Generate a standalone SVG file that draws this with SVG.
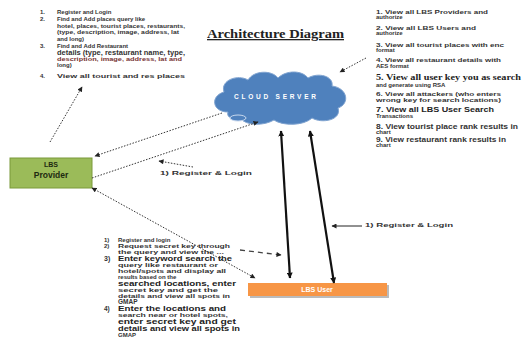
<svg xmlns="http://www.w3.org/2000/svg" width="531" height="337" viewBox="0 0 531 337">
<style>
.t{font-family:"Liberation Sans",Arial,sans-serif;font-weight:bold;fill:#333;font-size:6px}
.dot{fill:none;stroke:#333;stroke-width:1;stroke-dasharray:1.5 1.5}
.dash{fill:none;stroke:#444;stroke-width:1.3;stroke-dasharray:5 4}
.solid{fill:none;stroke:#111;stroke-width:2.2}
</style>
<defs>
<marker id="a" viewBox="0 0 10 10" refX="9" refY="5" markerWidth="6" markerHeight="5" markerUnits="userSpaceOnUse" orient="auto-start-reverse"><path d="M0,0 L10,5 L0,10 z" fill="#222"/></marker>
<marker id="s" viewBox="0 0 10 10" refX="9" refY="5" markerWidth="6" markerHeight="6" markerUnits="userSpaceOnUse" orient="auto-start-reverse"><path d="M0,0 L10,5 L0,10 z" fill="#111"/></marker>
</defs>
<rect width="531" height="337" fill="#fff"/>

<g id="title">
<text x="207" y="38" font-family="Liberation Serif,serif" font-weight="bold" font-size="13" fill="#222" text-decoration="underline" textLength="137" lengthAdjust="spacingAndGlyphs">Architecture Diagram</text>
</g>

<g id="provider-functions" class="t">
<text x="40" y="14">1.</text><text x="57" y="14">Register and Login</text>
<text x="40" y="21">2.</text><text x="57" y="21">Find and Add places query like</text>
<text x="57" y="28" textLength="128" lengthAdjust="spacingAndGlyphs">hotel, places, tourist places, restaurants,</text>
<text x="57" y="34" textLength="122" lengthAdjust="spacingAndGlyphs">(type, description, image, address, lat</text>
<text x="57" y="41">and long)</text>
<text x="40" y="48">3.</text><text x="57" y="48">Find and Add Restaurant</text>
<text x="57" y="55" style="font-size:6.5px" textLength="128" lengthAdjust="spacingAndGlyphs">details (type, restaurant name, type,</text>
<text x="57" y="61" style="fill:#733" textLength="125" lengthAdjust="spacingAndGlyphs">description, image, address, lat and</text>
<text x="57" y="67">long)</text>
<text x="40" y="78">4.</text><text x="57" y="78" textLength="128" lengthAdjust="spacingAndGlyphs">View all tourist and res places</text>
</g>

<g id="server-functions" class="t">
<text x="376" y="14" textLength="112" lengthAdjust="spacingAndGlyphs">1. View all LBS Providers and</text>
<text x="376" y="19">authorize</text>
<text x="376" y="30" textLength="100" lengthAdjust="spacingAndGlyphs">2. View all LBS Users and</text>
<text x="376" y="35">authorize</text>
<text x="376" y="47" textLength="128" lengthAdjust="spacingAndGlyphs">3. View all tourist places with enc</text>
<text x="376" y="52">format</text>
<text x="376" y="62" textLength="125" lengthAdjust="spacingAndGlyphs">4. View all restaurant details with</text>
<text x="376" y="68">AES format</text>
<text x="376" y="80" style="font-family:'Liberation Serif',serif;font-size:8px;fill:#222" textLength="145" lengthAdjust="spacingAndGlyphs">5. View all user key you as search</text>
<text x="376" y="87">and generate using RSA</text>
<text x="376" y="96" textLength="125" lengthAdjust="spacingAndGlyphs">6. View all attackers (who enters</text>
<text x="376" y="102" textLength="125" lengthAdjust="spacingAndGlyphs">wrong key for search locations)</text>
<text x="376" y="112" style="font-size:7px;fill:#222" textLength="118" lengthAdjust="spacingAndGlyphs">7. View all LBS User Search</text>
<text x="376" y="118">Transactions</text>
<text x="376" y="129" style="font-size:6.5px" textLength="142" lengthAdjust="spacingAndGlyphs">8. View tourist place rank results in</text>
<text x="376" y="134">chart</text>
<text x="376" y="142" style="font-size:6.5px" textLength="130" lengthAdjust="spacingAndGlyphs">9. View restaurant rank results in</text>
<text x="376" y="147">chart</text>
</g>

<g id="user-functions" class="t">
<text x="104" y="242">1)</text><text x="118" y="242">Register and login</text>
<text x="104" y="248">2)</text><text x="118" y="248" textLength="112" lengthAdjust="spacingAndGlyphs">Request secret key through</text>
<text x="118" y="254" textLength="106" lengthAdjust="spacingAndGlyphs">the query and view the ...</text>
<text x="104" y="261" style="font-size:7px">3)</text><text x="118" y="261" style="font-size:7px;fill:#222" textLength="114" lengthAdjust="spacingAndGlyphs">Enter keyword search the</text>
<text x="118" y="267" textLength="100" lengthAdjust="spacingAndGlyphs">query like restaurant or</text>
<text x="118" y="273" textLength="108" lengthAdjust="spacingAndGlyphs">hotel/spots and display all</text>
<text x="118" y="279">results based on the</text>
<text x="118" y="286" style="font-size:6.8px;fill:#222" textLength="118" lengthAdjust="spacingAndGlyphs">searched locations, enter</text>
<text x="118" y="292" textLength="100" lengthAdjust="spacingAndGlyphs">secret key and get the</text>
<text x="118" y="298" textLength="112" lengthAdjust="spacingAndGlyphs">details and view all spots in</text>
<text x="118" y="304" style="font-size:6.5px">GMAP</text>
<text x="104" y="311" style="font-size:6.5px">4)</text><text x="118" y="311" style="font-size:6.8px;fill:#222" textLength="108" lengthAdjust="spacingAndGlyphs">Enter the locations and</text>
<text x="118" y="317" textLength="110" lengthAdjust="spacingAndGlyphs">search near or hotel spots,</text>
<text x="118" y="324" style="font-size:6.8px;fill:#222" textLength="118" lengthAdjust="spacingAndGlyphs">enter secret key and get</text>
<text x="118" y="331" style="font-size:6.8px;fill:#222" textLength="122" lengthAdjust="spacingAndGlyphs">details and view all spots in</text>
<text x="118" y="337" style="font-size:6px">GMAP</text>
</g>

<g id="cloud-server">
<path d="M228 112 C212 112 210 96 224 92 C220 80 238 74 248 80 C254 70 272 70 278 78 C286 70 302 70 308 78 C318 72 334 76 332 86 C348 88 350 104 338 108 C342 120 322 124 312 118 C304 126 282 126 274 120 C264 126 246 126 240 118 C234 120 226 118 228 112 Z" fill="#4F81BD" stroke="#7fa3d0" stroke-width="1"/>
<ellipse cx="238" cy="118" rx="8" ry="3" fill="#4F81BD" stroke="#c8d8ee" stroke-width="1"/>
<text x="275" y="99" text-anchor="middle" font-family="Liberation Sans,sans-serif" font-weight="bold" font-size="6.5" fill="#fff" textLength="82">CLOUD SERVER</text>
</g>

<g id="lbs-provider">
<rect x="10" y="158" width="82" height="30" fill="#9BBB59" stroke="#7a9a3a" stroke-width="1"/>
<text x="51" y="167" text-anchor="middle" font-family="Liberation Sans,sans-serif" font-weight="bold" font-size="7" fill="#1e2a10">LBS</text>
<text x="51" y="178" text-anchor="middle" font-family="Liberation Sans,sans-serif" font-weight="bold" font-size="8.5" fill="#1e2a10">Provider</text>
</g>

<g id="lbs-user">
<rect x="250" y="285" width="139" height="13" fill="#bbb"/>
<rect x="248" y="283" width="139" height="13" fill="#F79646"/>
<text x="317" y="292" text-anchor="middle" font-family="Liberation Sans,sans-serif" font-weight="bold" font-size="7" fill="#fff">LBS User</text>
</g>

<g id="connectors">
<line class="dot" x1="50" y1="142" x2="82" y2="87" marker-end="url(#a)"/>
<line class="dot" x1="366" y1="58" x2="340" y2="72" marker-end="url(#a)"/>
<line class="dot" x1="222" y1="113" x2="95" y2="156" marker-end="url(#a)"/>
<line class="dot" x1="92" y1="178" x2="258" y2="122" marker-end="url(#a)"/>
<line class="dot" x1="193" y1="167" x2="159" y2="161" marker-end="url(#a)"/>
<line class="dot" x1="92" y1="188" x2="255" y2="278" marker-start="url(#a)" marker-end="url(#a)"/>
<line class="dash" x1="240" y1="250" x2="281" y2="255" marker-end="url(#a)"/>
<line class="solid" x1="281" y1="131" x2="290" y2="278" marker-start="url(#s)" marker-end="url(#s)"/>
<line class="solid" x1="310" y1="131" x2="334" y2="283" marker-start="url(#s)" marker-end="url(#s)"/>
<line x1="362" y1="226" x2="332" y2="226" stroke="#222" stroke-width="1" marker-end="url(#a)"/>
<text x="160" y="175" class="t" style="font-size:5.5px" textLength="92" lengthAdjust="spacingAndGlyphs">1) Register &amp; Login</text>
<text x="365" y="227" class="t" style="font-size:5.5px" textLength="88" lengthAdjust="spacingAndGlyphs">1) Register &amp; Login</text>
</g>
</svg>
